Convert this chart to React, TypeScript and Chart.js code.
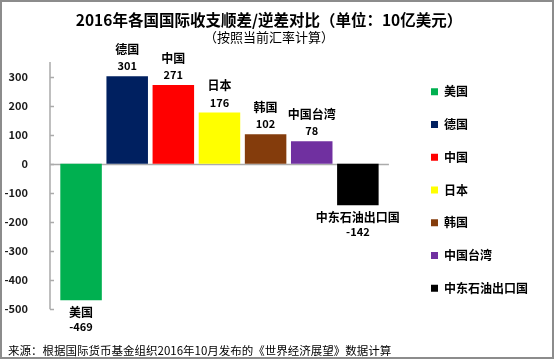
import React, { useEffect, useRef } from 'react';
import { Chart, registerables } from 'chart.js';

Chart.register(...registerables);

const categories = ['美国', '德国', '中国', '日本', '韩国', '中国台湾', '中东石油出口国'];
const balances = [-469, 301, 271, 176, 102, 78, -142];
const barColors = ['#00B050', '#002060', '#FF0000', '#FFFF00', '#843C0C', '#7030A0', '#000000'];
const yTickValues = [-500, -400, -300, -200, -100, 0, 100, 200, 300];
const titleText = '2016年各国国际收支顺差/逆差对比（单位：10亿美元）';
const subtitleText = '（按照当前汇率计算）';
const sourceText = '来源：根据国际货币基金组织2016年10月发布的《世界经济展望》数据计算';

const FONT = '"Noto Sans CJK SC", "Noto Sans", sans-serif';

const decorPlugin = {
  id: 'decor',
  beforeDraw(chart: any) {
    const { ctx, width, height } = chart;
    ctx.save();
    ctx.fillStyle = '#FFFFFF';
    ctx.fillRect(0, 0, width, height);
    ctx.restore();
  },
  beforeDatasetsDraw(chart: any) {
    const { ctx, chartArea, scales } = chart;
    const y = scales.y;
    const ax = chartArea.left - 8;
    ctx.save();
    ctx.strokeStyle = '#ABABAB';
    ctx.lineWidth = 1.5;
    ctx.beginPath();
    ctx.moveTo(ax, chartArea.top);
    ctx.lineTo(ax, chartArea.bottom);
    yTickValues.forEach((v) => {
      const py = Math.round(y.getPixelForValue(v)) + 0.5;
      ctx.moveTo(ax, py);
      ctx.lineTo(ax + 4, py);
    });
    ctx.stroke();
    const zy = Math.round(y.getPixelForValue(0)) + 0.5;
    ctx.beginPath();
    ctx.moveTo(ax, zy);
    ctx.lineTo(chartArea.right + 8, zy);
    ctx.stroke();
    ctx.restore();
  },
  afterDatasetsDraw(chart: any) {
    const { ctx } = chart;
    const meta = chart.getDatasetMeta(0);
    ctx.save();
    ctx.textAlign = 'center';
    ctx.textBaseline = 'middle';
    ctx.fillStyle = '#000000';
    meta.data.forEach((bar: any, i: number) => {
      const v = balances[i];
      const x = bar.x;
      const y = bar.y;
      if (v >= 0) {
        ctx.font = `bold 12px ${FONT}`;
        ctx.fillText(categories[i], x, y - 27);
        ctx.font = `bold 11px ${FONT}`;
        ctx.fillText(String(v), x, y - 10);
      } else {
        ctx.font = `bold 12px ${FONT}`;
        ctx.fillText(categories[i], x, y + 12);
        ctx.font = `bold 11px ${FONT}`;
        ctx.fillText(String(v), x, y + 27);
      }
    });
    ctx.restore();
  },
  afterDraw(chart: any) {
    const { ctx, width, height } = chart;
    ctx.save();
    ctx.fillStyle = '#000000';
    ctx.font = `11.5px ${FONT}`;
    ctx.textAlign = 'left';
    ctx.textBaseline = 'middle';
    ctx.fillText(sourceText, 8, 351);
    ctx.strokeStyle = '#8C8C8C';
    ctx.lineWidth = 2;
    ctx.strokeRect(1, 1, width - 2, height - 2);
    ctx.restore();
  },
};

export default function App() {
  const canvasRef = useRef<HTMLCanvasElement | null>(null);

  useEffect(() => {
    if (!canvasRef.current) return;
    const chart = new Chart(canvasRef.current, {
      type: 'bar',
      data: {
        labels: categories,
        datasets: [
          {
            label: '国际收支',
            data: balances,
            backgroundColor: barColors,
            borderWidth: 0,
            barPercentage: 0.9,
            categoryPercentage: 1,
          },
        ],
      },
      options: {
        responsive: false,
        animation: false,
        devicePixelRatio: 1,
        layout: { padding: { left: 0, right: 16, top: 0, bottom: 0 } },
        scales: {
          x: {
            display: true,
            offset: true,
            grid: { display: false },
            border: { display: false },
            ticks: { display: false },
            afterFit: (s: any) => {
              s.height = 49.7;
            },
          },
          y: {
            min: -500,
            max: 350,
            grid: { display: false },
            border: { display: false },
            ticks: {
              stepSize: 100,
              includeBounds: false,
              padding: 22,
              color: '#1A1A1A',
              font: { family: FONT, size: 11, weight: 'bold' },
              callback: (v: any) => (yTickValues.includes(Number(v)) ? String(v) : ''),
            },
            afterFit: (s: any) => {
              s.width = 58;
            },
          },
          yR: {
            position: 'right',
            display: true,
            grid: { display: false },
            border: { display: false },
            ticks: { display: false },
            afterFit: (s: any) => {
              s.width = 29.3;
            },
          },
        },
        plugins: {
          title: {
            display: true,
            text: titleText,
            color: '#000000',
            font: { family: FONT, size: 15.5, weight: 'bold', lineHeight: 1.2 },
            padding: { top: 10.7, bottom: 0 },
          },
          subtitle: {
            display: true,
            text: subtitleText,
            color: '#000000',
            font: { family: FONT, size: 13, weight: 'normal', lineHeight: 1.2 },
            padding: { top: 0, bottom: 17.1 },
          },
          legend: {
            display: true,
            position: 'right',
            align: 'start',
            fullSize: true,
            maxWidth: 140,
            title: {
              display: true,
              text: ' ',
              padding: { top: 62.03, bottom: 0 },
              font: { size: 2, lineHeight: 1.45 },
            },
            labels: {
              boxWidth: 7,
              boxHeight: 7,
              padding: 20.77,
              color: '#000000',
              font: { family: FONT, size: 12, weight: 'bold' },
              generateLabels: () =>
                categories.map((c, i) => ({
                  text: c,
                  fillStyle: barColors[i],
                  strokeStyle: barColors[i],
                  lineWidth: 0,
                  hidden: false,
                  index: i,
                  fontColor: '#000000',
                })),
            },
            onClick: () => {},
          },
          tooltip: { enabled: false },
        },
      },
      plugins: [decorPlugin],
    } as any);
    return () => chart.destroy();
  }, []);

  return (
    <div style={{ position: 'absolute', left: 0, top: 0, width: 554, height: 359 }}>
      <canvas ref={canvasRef} width={554} height={359} style={{ display: 'block' }} />
    </div>
  );
}
